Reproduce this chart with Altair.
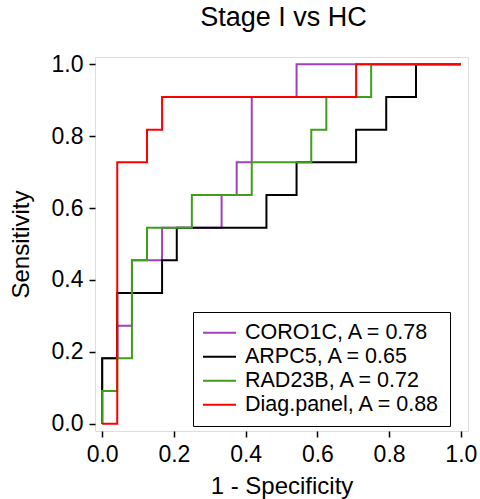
import altair as alt
import pandas as pd

# ---- data ----
series_names = ["CORO1C", "ARPC5", "RAD23B", "Diag.panel"]
auc_values = ["0.78", "0.65", "0.72", "0.88"]
series_colors = ["#A040C0", "#000000", "#3F9E1A", "#FF0000"]
series_widths = [2.0, 2.0, 2.0, 3.4]

# ROC corner points (step-after: horizontal first, then vertical)
coro1c_fpr = [0.0, 0.0, 0.042, 0.083, 0.167, 0.333, 0.375, 0.417, 0.542, 1.0]
coro1c_tpr = [0.0, 0.182, 0.273, 0.455, 0.545, 0.636, 0.727, 0.909, 1.0, 1.0]

arpc5_fpr = [0.0, 0.0, 0.042, 0.167, 0.208, 0.458, 0.542, 0.708, 0.792, 0.875, 1.0]
arpc5_tpr = [0.0, 0.182, 0.364, 0.455, 0.545, 0.636, 0.727, 0.818, 0.909, 1.0, 1.0]

rad23b_fpr = [0.0, 0.0, 0.042, 0.083, 0.125, 0.25, 0.417, 0.583, 0.625, 0.75, 1.0]
rad23b_tpr = [0.0, 0.091, 0.182, 0.455, 0.545, 0.636, 0.727, 0.818, 0.909, 1.0, 1.0]

diag_fpr = [0.0, 0.042, 0.125, 0.167, 0.708, 1.0]
diag_tpr = [0.0, 0.727, 0.818, 0.909, 1.0, 1.0]

tick_values = [0.0, 0.2, 0.4, 0.6, 0.8, 1.0]

# ---- build table ----
labels = [f"{n}, A = {a}" for n, a in zip(series_names, auc_values)]
all_fpr = [coro1c_fpr, arpc5_fpr, rad23b_fpr, diag_fpr]
all_tpr = [coro1c_tpr, arpc5_tpr, rad23b_tpr, diag_tpr]
rows = []
for lab, fx, ty in zip(labels, all_fpr, all_tpr):
    for i, (a, b) in enumerate(zip(fx, ty)):
        rows.append({"series": lab, "fpr": a, "tpr": b, "idx": i})
df = pd.DataFrame(rows)

FONT = "Liberation Sans"

legend = alt.Legend(
    orient="none", legendX=98, legendY=255, title=None,
    symbolType="stroke", symbolSize=1089, symbolOffset=0,
    labelFontSize=21.5, labelFont=FONT, labelColor="black", labelOffset=8,
    labelLimit=0, clipHeight=23.3, rowPadding=0, padding=9,
    strokeColor="black", fillColor="white",
)

xaxis = alt.Axis(values=tick_values, format=".1f", tickSize=6, tickWidth=1.5,
                 tickColor="black", domain=False, grid=False,
                 labelFontSize=23, labelFont=FONT, labelColor="black",
                 labelPadding=6, title="1 - Specificity", titleFontSize=24,
                 titleFont=FONT, titleFontWeight="normal", titleColor="black",
                 titlePadding=8)
yaxis = alt.Axis(values=tick_values, format=".1f", tickSize=6, tickWidth=1.5,
                 tickColor="black", domain=False, grid=False,
                 labelFontSize=23, labelFont=FONT, labelColor="black",
                 labelPadding=6, title="Sensitivity", titleFontSize=24,
                 titleFont=FONT, titleFontWeight="normal", titleColor="black",
                 titlePadding=18)

xs = alt.Scale(domain=[-0.02, 1.02], nice=False, zero=False)
ys = alt.Scale(domain=[-0.02, 1.02], nice=False, zero=False)

layers = []
for lab in labels:
    layers.append(
        alt.Chart(df).transform_filter(alt.datum.series == lab)
        .mark_line(interpolate="step-after", strokeCap="butt")
        .encode(
            x=alt.X("fpr:Q", scale=xs, axis=xaxis),
            y=alt.Y("tpr:Q", scale=ys, axis=yaxis),
            color=alt.Color("series:N", scale=alt.Scale(domain=labels, range=series_colors), legend=legend),
            strokeWidth=alt.StrokeWidth("series:N", scale=alt.Scale(domain=labels, range=series_widths), legend=legend),
            order=alt.Order("idx:Q"),
        )
    )

chart = alt.layer(*layers).properties(
    width=373, height=374,
    title=alt.TitleParams("Stage I vs HC", fontSize=27, font=FONT, fontWeight="normal",
                          color="black", frame="group", offset=21, anchor="middle", dx=2),
    autosize=alt.AutoSizeParams(type="none"),
    padding={"left": 95, "top": 57, "right": 12, "bottom": 68},
).configure_view(stroke="black", strokeWidth=1.5).configure_legend(strokeWidth=1.5
).configure(background="white")

chart.save("out.html", embed_options={"renderer": "svg", "actions": False})
